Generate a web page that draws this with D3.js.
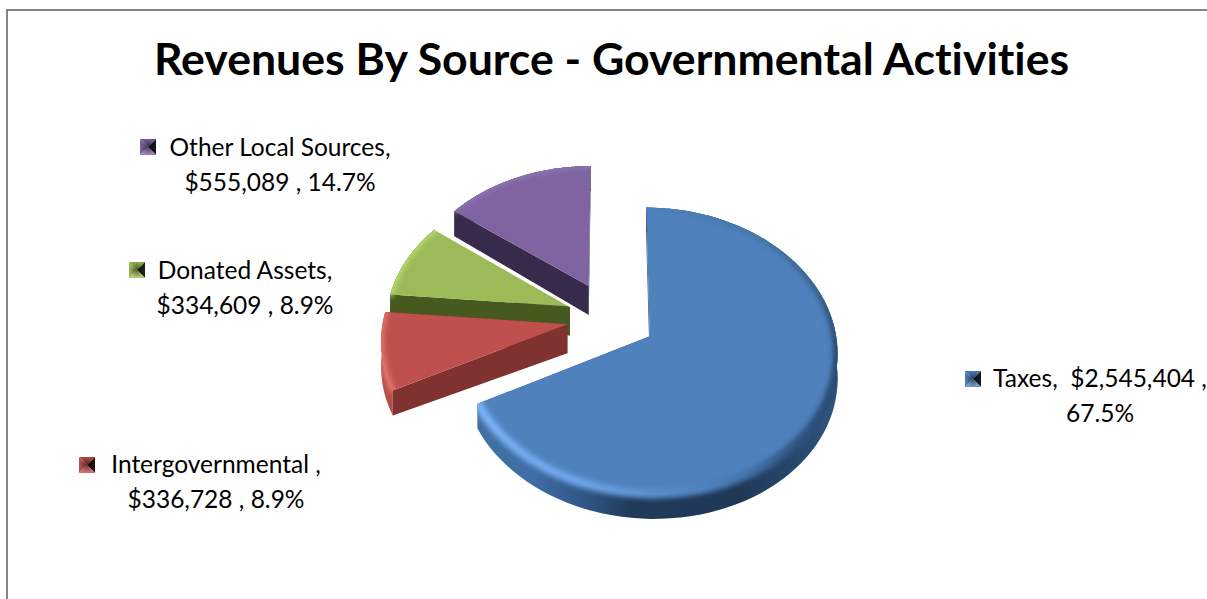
<!DOCTYPE html>
<html>
<head>
<meta charset="utf-8">
<style>
html,body{margin:0;padding:0;background:#fff;overflow:hidden}
svg{display:block}
text{font-family:Lato,"Open Sans",sans-serif;fill:#000;font-variant-ligatures:none;white-space:pre}
</style>
<script src="https://cdn.jsdelivr.net/npm/d3@7/dist/d3.min.js"></script>
</head>
<body>
<svg id="chart" width="1207" height="599"></svg>
<script>
// Revenue sources, drawn clockwise from twelve o'clock
const categories = ["Taxes", "Intergovernmental", "Donated Assets", "Other Local Sources"];
const revenues = [2545404, 336728, 334609, 555089];
const shares = ["67.5%", "8.9%", "8.9%", "14.7%"];
const topColors = ["#4f81bd", "#c0504d", "#9bbb59", "#8064a2"];
const cutColors = ["#2f5583", "#7f3230", "#465a20", "#372a4b"];
const outerColors = ["url(#wallBlue)", "#b54c48", "#465a20", "#372a4b"];
const rimLights = ["#7db0f2", "#e8786f", "#b9dc6c", "#8f74b3"];
const explodeBy = [0.25, 0.235, 0.235, 0.265];
const chartTitle = "Revenues By Source - Governmental Activities";
const labelLines = [
  ["Taxes,  $2,545,404 ,", "67.5%"],
  ["Intergovernmental ,", "$336,728 , 8.9%"],
  ["Donated Assets,", "$334,609 , 8.9%"],
  ["Other Local Sources,", "$555,089 , 14.7%"]
];
const labelAnchors = [[1100, 379], [216, 465], [245, 271], [280, 148]];
const keyPositions = [[965, 371], [79, 457], [129, 262], [140, 139]];

const svg = d3.select("#chart");
const defs = svg.append("defs");

// Tilted-disc projection: y runs toward the viewer, near parts draw larger
const cx = 610, cy = 318, R = 184, A = 138, P = 0.1;
const project = (X, Y) => {
  const w = 1 - P * Y;
  return [cx + R * X / w, cy + A * Y / w];
};
const RIM_DROP = 25, APEX_DROP = 29;

const arcs = d3.pie().value(d => d).sort(null)(revenues);

// Sample one wedge as projected rim points
function wedge(d, i) {
  const mid = (d.startAngle + d.endAngle) / 2;
  const ox = explodeBy[i] * Math.sin(mid), oy = -explodeBy[i] * Math.cos(mid);
  const steps = d3.range(0, 1.0001, 1 / 90).map(t => d.startAngle + t * (d.endAngle - d.startAngle));
  const rim = steps.map(a => project(ox + Math.sin(a), oy - Math.cos(a)));
  return {apex: project(ox, oy), rim, steps};
}
const drop = (p, k) => [p[0], p[1] + k];
const line = d3.line();

const blur = defs.append("filter").attr("id", "soft")
  .attr("filterUnits", "userSpaceOnUse")
  .attr("x", 300).attr("y", 120).attr("width", 620).attr("height", 460);
blur.append("feGaussianBlur").attr("stdDeviation", 2.6);

// Blue wall fades from mid blue on the left to navy underneath
const wallGrad = defs.append("linearGradient").attr("id", "wallBlue")
  .attr("gradientUnits", "userSpaceOnUse").attr("x1", 480).attr("x2", 840).attr("y1", 0).attr("y2", 0);
[[0, "#41709f"], [0.14, "#3f6ea6"], [0.3, "#2f5583"], [0.42, "#203a5a"], [0.72, "#1f3856"], [0.92, "#2a4c74"], [1, "#33597f"]]
  .forEach(([o, c]) => wallGrad.append("stop").attr("offset", o).attr("stop-color", c));

// Rim shade of the blue wedge by angle: shadow on the right, highlight lower left
const blueRim = d3.scaleLinear()
  .domain([0, 50, 100, 135, 160, 200, 243])
  .range(["#4f81bd", "#44719f", "#27476d", "#2f5481", "#4a7bb4", "#6ea4e8", "#7db4f8"]);

const g = svg.append("g");

// Painter's order: the far wedges first, the large near wedge last
[3, 2, 1, 0].forEach(i => {
  const d = arcs[i];
  const w = wedge(d, i);
  const slice = g.append("g");
  const first = w.rim[0], last = w.rim[w.rim.length - 1];

  // Cut faces
  [first, last].forEach(p => {
    slice.append("path")
      .attr("d", line([w.apex, p, drop(p, RIM_DROP), drop(w.apex, APEX_DROP)]) + "Z")
      .attr("fill", cutColors[i]);
  });
  // Outer wall
  const wallPath = line(w.rim.concat(w.rim.map(p => drop(p, RIM_DROP)).reverse())) + "Z";
  slice.append("path").attr("d", wallPath).attr("fill", outerColors[i]);

  // Top face
  const topPath = line([w.apex].concat(w.rim)) + "Z";
  slice.append("path").attr("d", topPath).attr("fill", topColors[i]);

  // Soft bevel along the rim, kept inside the top and outer wall
  const clipId = "bevel" + i;
  const clip = defs.append("clipPath").attr("id", clipId);
  clip.append("path").attr("d", topPath);
  clip.append("path").attr("d", wallPath);
  const bevel = slice.append("g").attr("clip-path", `url(#${clipId})`)
    .append("g").attr("filter", "url(#soft)");
  d3.pairs(w.rim).forEach(([a, b], k) => {
    const deg = w.steps[k] * 180 / Math.PI;
    bevel.append("path").attr("d", line([a, b]))
      .attr("fill", "none").attr("stroke-linecap", "round")
      .attr("stroke", i === 0 ? blueRim(deg) : rimLights[i])
      .attr("stroke-width", i === 0 ? 9 : 5);
  });

  // Light seam along the green wedge where it meets the purple wall
  if (i === 2) {
    slice.append("path").attr("d", line([last, w.apex]))
      .attr("stroke", "#fff").attr("stroke-width", 1.5).attr("fill", "none");
  }
});

// Pyramid-shaded legend keys
const KEY = 16;
const shade = (c, k) => d3.interpolateRgb(c, k > 0 ? "#fff" : "#000")(Math.abs(k));
categories.forEach((name, i) => {
  const [x, y] = keyPositions[i];
  const c = topColors[i];
  const m = [x + KEY / 2, y + KEY / 2];
  const tl = [x, y], tr = [x + KEY, y], br = [x + KEY, y + KEY], bl = [x, y + KEY];
  const key = svg.append("g").attr("class", "key");
  const gid = "keyCore" + i;
  const core = defs.append("radialGradient").attr("id", gid)
    .attr("gradientUnits", "userSpaceOnUse")
    .attr("cx", m[0]).attr("cy", m[1]).attr("r", KEY * 0.45);
  core.append("stop").attr("offset", 0).attr("stop-color", "#000").attr("stop-opacity", 0.5);
  core.append("stop").attr("offset", 1).attr("stop-color", "#000").attr("stop-opacity", 0);
  [[tl, tr, -0.12], [tr, br, -0.8], [br, bl, 0.18], [bl, tl, -0.04]].forEach(([a, b, k]) => {
    key.append("path").attr("d", line([a, b, m]) + "Z").attr("fill", shade(c, k));
  });
  key.append("rect").attr("x", x).attr("y", y).attr("width", KEY).attr("height", KEY)
    .attr("fill", `url(#${gid})`);
});

// Data labels
labelLines.forEach((lines, i) => {
  const [x, y] = labelAnchors[i];
  const t = svg.append("text").attr("text-anchor", "middle").attr("font-size", 24.5);
  lines.forEach((s, j) => {
    t.append("tspan").attr("x", x).attr("y", y + 8 + j * 34.5).text(s);
  });
});

// Title
svg.append("text").attr("x", 611.5).attr("y", 75).attr("text-anchor", "middle")
  .attr("font-size", 44.6).attr("font-weight", 700).text(chartTitle);

// Chart frame, clipped by the right and bottom of the page
svg.append("path").attr("d", "M7,599V10H1207").attr("fill", "none")
  .attr("stroke", "#868686").attr("stroke-width", 2);
</script>
</body>
</html>
